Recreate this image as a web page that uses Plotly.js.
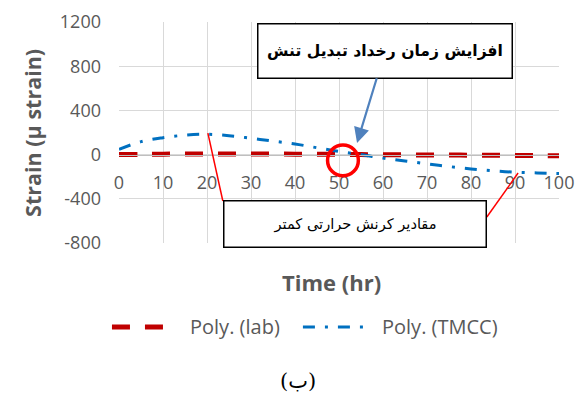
<!DOCTYPE html>
<html>
<head>
<meta charset="utf-8">
<script src="https://cdn.plot.ly/plotly-3.0.1.min.js"></script>
<style>
  html, body { margin: 0; padding: 0; background: #ffffff; }
  #chart { width: 579px; height: 396px; }
</style>
</head>
<body>
<div id="chart"></div>
<script>
// Time axis samples (hr)
const timeHr = [0, 5, 10, 15, 20, 25, 30, 35, 40, 45, 50, 55, 60, 65, 70, 75, 80, 85, 90, 95, 100];
// Polynomial trend of the lab strain (µ strain)
const labStrain = [0, 2, 4, 5, 6, 6, 6, 5, 4, 3, 2, 0, -1, -2, -3, -4, -5, -6, -8, -9, -10];
// Polynomial trend of the TMCC model strain (µ strain)
const tmccStrain = [48, 117, 153, 176, 184, 171, 148, 122, 96, 62, 28, 0, -32, -57, -84, -108, -130, -147, -159, -166, -171];

const seriesNames = ['Poly. (lab)', 'Poly. (TMCC)'];
const xTickVals = [0, 10, 20, 30, 40, 50, 60, 70, 80, 90, 100];
const yTickVals = [-800, -400, 0, 400, 800, 1200];
const yTickText = ['-800', '-400', '0', '400', '800', '1200'];

const xTitle = 'Time (hr)';
const yTitle = 'Strain (µ strain)';
const noteShift = 'افزایش زمان رخداد تبدیل تنش';
const noteLower = 'مقادیر کرنش حرارتی کمتر';
const caption = '(ب)';

const gray = '#595959';
const labColor = '#c00000';
const tmccColor = '#0070c0';
const labDash = '18px,15px';
const tmccDash = '12px,10px,3px,10px';
const latin = '"Open Sans", "DejaVu Sans", sans-serif';
const persian = '"DejaVu Sans", sans-serif';

const traces = [
  {
    x: timeHr, y: labStrain, name: seriesNames[0], type: 'scatter', mode: 'lines',
    line: { color: labColor, width: 5, dash: labDash, shape: 'spline' },
    showlegend: false, hoverinfo: 'skip'
  },
  {
    x: timeHr, y: tmccStrain, name: seriesNames[1], type: 'scatter', mode: 'lines',
    line: { color: tmccColor, width: 3, dash: tmccDash, shape: 'spline' },
    showlegend: false, hoverinfo: 'skip'
  }
];

// Legend row, drawn below the axis title
const legendY = -0.38;
const legendShapes = [
  { type: 'line', xref: 'paper', yref: 'paper', x0: -0.016, x1: 0.10, y0: legendY, y1: legendY,
    line: { color: labColor, width: 5, dash: labDash } },
  { type: 'line', xref: 'paper', yref: 'paper', x0: 0.418, x1: 0.559, y0: legendY, y1: legendY,
    line: { color: tmccColor, width: 3, dash: tmccDash } }
];

const layout = {
  width: 579, height: 396,
  margin: { l: 119, r: 20, t: 22, b: 153, pad: 0 },
  paper_bgcolor: '#ffffff', plot_bgcolor: '#ffffff',
  showlegend: false,
  font: { family: latin, color: gray, size: 18 },
  xaxis: {
    range: [0, 100], tickvals: xTickVals, ticks: '',
    showgrid: true, gridcolor: '#d9d9d9', gridwidth: 1,
    zeroline: false, showline: true, linecolor: '#bfbfbf', linewidth: 1.3,
    anchor: 'free', position: 0.4,
    ticklabelstandoff: 11,
    tickfont: { family: latin, size: 18, color: gray },
    fixedrange: true
  },
  yaxis: {
    range: [-800, 1200], tickvals: yTickVals, ticktext: yTickText, ticks: '',
    showgrid: true, gridcolor: '#d9d9d9', gridwidth: 1,
    zeroline: false, showline: false,
    ticklabelstandoff: 17,
    tickfont: { family: latin, size: 18, color: gray },
    fixedrange: true
  },
  shapes: [
    // highlight where the two trends cross
    { type: 'circle', xref: 'x', yref: 'y', x0: 47.4, x1: 54.4, y0: -192, y1: 86,
      line: { color: '#ff0000', width: 3.5 } },
    // leader lines from the lower note to the TMCC trend
    { type: 'line', xref: 'x', yref: 'y', x0: 20.2, y0: 195, x1: 23.6, y1: -420,
      line: { color: '#ff0000', width: 1.5 } },
    { type: 'line', xref: 'x', yref: 'y', x0: 83.6, y0: -565, x1: 90.7, y1: -167,
      line: { color: '#ff0000', width: 1.5 } }
  ].concat(legendShapes),
  annotations: [
    { text: '<b>' + xTitle + '</b>', xref: 'paper', yref: 'paper', x: 0.482, y: -0.1765,
      xanchor: 'center', yanchor: 'middle', showarrow: false,
      font: { family: latin, size: 22, color: gray } },
    { text: '<b>' + yTitle + '</b>', xref: 'paper', yref: 'paper', x: -0.198, y: 0.4977,
      xanchor: 'center', yanchor: 'middle', textangle: -90, showarrow: false,
      font: { family: latin, size: 21.5, color: gray } },
    { text: '<b>' + noteShift + '</b>', xref: 'x', yref: 'y', x: 54.1, y: 105,
      axref: 'pixel', ayref: 'pixel', ax: 28, ay: -92,
      showarrow: true, arrowhead: 2, arrowsize: 1.4, arrowwidth: 2.2, arrowcolor: '#4f81bd',
      width: 253, height: 53, borderpad: 0, bordercolor: '#000000', borderwidth: 1.5,
      bgcolor: '#ffffff', align: 'center', valign: 'middle',
      font: { family: persian, size: 15.6, color: '#000000' } },
    { text: noteLower, xref: 'x', yref: 'y', x: 53.6, y: -628,
      showarrow: false,
      width: 261, height: 45, borderpad: 0, bordercolor: '#000000', borderwidth: 1.5,
      bgcolor: '#ffffff', align: 'center', valign: 'middle',
      font: { family: persian, size: 14.6, color: '#000000' } },
    { text: seriesNames[0], xref: 'paper', yref: 'paper', x: 0.157, y: legendY,
      xanchor: 'left', yanchor: 'middle', showarrow: false,
      font: { family: latin, size: 20, color: gray } },
    { text: seriesNames[1], xref: 'paper', yref: 'paper', x: 0.593, y: legendY,
      xanchor: 'left', yanchor: 'middle', showarrow: false,
      font: { family: latin, size: 20, color: gray } },
    { text: caption, xref: 'paper', yref: 'paper', x: 0.407, y: -0.626,
      xanchor: 'center', yanchor: 'middle', showarrow: false,
      font: { family: '"DejaVu Serif", "DejaVu Sans", serif', size: 21, color: '#000000' } }
  ]
};

Plotly.newPlot('chart', traces, layout, { staticPlot: true, displayModeBar: false });
</script>
</body>
</html>
